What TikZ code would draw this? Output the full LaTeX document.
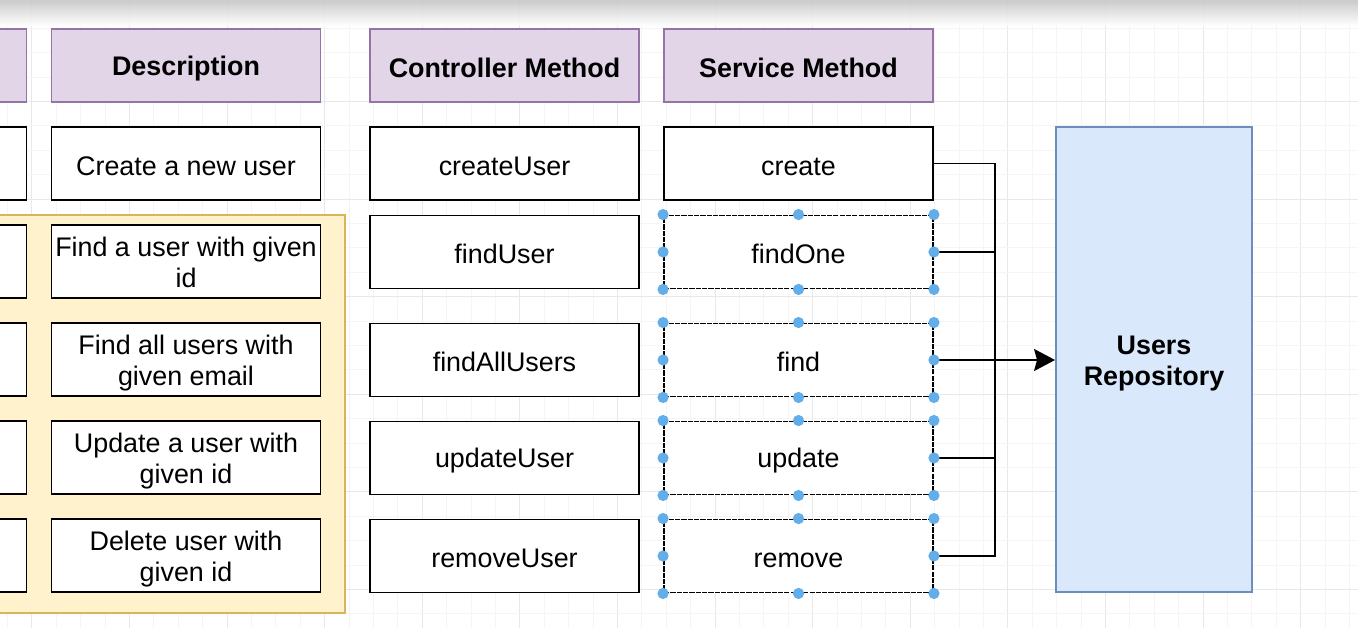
\documentclass[tikz,border=0pt]{standalone}
\usepackage{fontspec}
\setmainfont{Liberation Sans}
\usetikzlibrary{arrows.meta}
\definecolor{headfill}{HTML}{E1D5E7}
\definecolor{headline}{HTML}{9673A6}
\definecolor{groupfill}{HTML}{FFF2CC}
\definecolor{groupline}{HTML}{D6B656}
\definecolor{repofill}{HTML}{DAE8FC}
\definecolor{repoline}{HTML}{6C8EBF}
\definecolor{handleblue}{HTML}{62AEEA}
\def\txt{\fontsize{15.3}{17.6}\selectfont}
\def\cellstrut{\rule[-1.2pt]{0pt}{15.6pt}}

\begin{document}
\begin{tikzpicture}[x=0.02cm, y=-0.02cm,
		cell/.style={draw=black, line width=1.1pt, fill=white, minimum width=5.38cm, minimum height=1.46cm, inner sep=0pt, align=center, font=\txt,
			execute at begin node=\cellstrut, execute at end node=\cellstrut},
		twoline/.style={text height=31.2pt, text depth=1.2pt},
		header/.style={cell, draw=headline, fill=headfill, line width=0.9pt, font=\txt\bfseries},
		picked/.style={cell, dash pattern=on 3pt off 0.6pt},
		repobox/.style={twoline, draw=repoline, fill=repofill, line width=1.1pt, minimum width=3.92cm, minimum height=9.3cm, inner sep=0pt, align=center, font=\txt\bfseries},
		link/.style={line width=1.1pt},
		gridminor/.style={gray!8, line width=0.4pt},
		gridmajor/.style={gray!18, line width=0.5pt}]
		\useasboundingbox (0,0) rectangle (1358,628);
		\clip (0,0) rectangle (1358,628);
		
		\foreach \i in {0,...,55} {
			\pgfmathtruncatemacro{\m}{mod(\i,4)}
			\ifnum\m=1 \draw[gridmajor] ({7.4+24.4*\i},0) -- ++(0,628); \else \draw[gridminor] ({7.4+24.4*\i},0) -- ++(0,628); \fi
		}
		\foreach \j in {0,...,25} {
			\pgfmathtruncatemacro{\m}{mod(\j,4)}
			\ifnum\m=0 \draw[gridmajor] (0,{3.8+24.4*\j}) -- ++(1358,0); \else \draw[gridminor] (0,{3.8+24.4*\j}) -- ++(1358,0); \fi
		}
		\shade[top color=gray!45, bottom color=white, opacity=0.9] (0,0) rectangle (1358,26);
		
		\node[header] (hLeft) at (-108,65.5) {};
		\node[header] (hDesc) at (186,65.5) {Description};
		\node[header] (hCtrl) at (504.5,65.5) {Controller Method};
		\node[header] (hSvc) at (798.5,65.5) {Service Method};
		
		\draw[fill=groupfill, draw=groupline, line width=1pt] (-20,215) rectangle (345,613);
		
		\node[cell] (lA) at (-108,163.5) {};
		\node[cell] (lB) at (-108,261.5) {};
		\node[cell] (lC) at (-108,359.5) {};
		\node[cell] (lD) at (-108,457.5) {};
		\node[cell] (lE) at (-108,555.5) {};
		
		\node[cell] (dCreate) at (186,163.5) {Create a new user};
		\node[cell, twoline] (dFindOne) at (186,261.5) {Find a user with given\\id};
		\node[cell, twoline] (dFind) at (186,359.5) {Find all users with\\given email};
		\node[cell, twoline] (dUpdate) at (186,457.5) {Update a user with\\given id};
		\node[cell, twoline] (dRemove) at (186,555.5) {Delete user with\\given id};
		
		\node[cell] (cCreate) at (504.5,163.5) {createUser};
		\node[cell] (cFindOne) at (504.5,252) {findUser};
		\node[cell] (cFind) at (504.5,360) {findAllUsers};
		\node[cell] (cUpdate) at (504.5,458) {updateUser};
		\node[cell] (cRemove) at (504.5,556) {removeUser};
		
		\node[cell] (sCreate) at (798.5,163.5) {create};
		\node[picked] (sFindOne) at (798.5,252) {findOne};
		\node[picked] (sFind) at (798.5,360) {find};
		\node[picked] (sUpdate) at (798.5,458) {update};
		\node[picked] (sRemove) at (798.5,556) {remove};
		
		\node[repobox] (repo) at (1154,359.5) {Users\\Repository};
		
		\coordinate (bus) at (995,0);
		\draw[link] (sCreate.east) -- (sCreate.east -| bus) -- (sRemove.east -| bus) -- (sRemove.east);
		\draw[link] (sFindOne.east) -- (sFindOne.east -| bus);
		\draw[link] (sUpdate.east) -- (sUpdate.east -| bus);
		\draw[link, -{Stealth[length=0.42cm, width=0.44cm, inset=0.06cm]}] (sFind.east) -- (repo.west |- sFind.east);
		
		\foreach \s in {sFindOne, sFind, sUpdate, sRemove}
			\foreach \a in {north west, north, north east, east, south east, south, south west, west}
				\fill[handleblue] (\s.\a) circle (3.2pt);
	\end{tikzpicture}
\end{document}
